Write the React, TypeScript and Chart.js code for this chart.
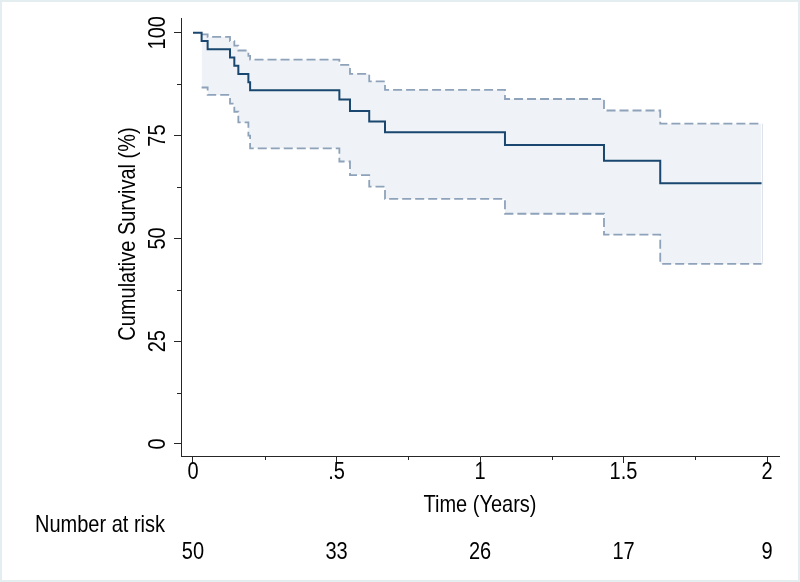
import React, { useEffect, useRef } from "react";
import { Chart, registerables } from "chart.js";
Chart.register(...registerables);

// Kaplan-Meier estimate (time in years, survival in %)
const kmTimes = [0, 0.030, 0.051, 0.129, 0.144, 0.158, 0.193, 0.199, 0.510, 0.547, 0.614, 0.669, 1.087, 1.432, 1.628, 1.981];
const kmSurvival = [100, 98, 96, 94, 92, 90, 88, 86, 83.8, 81.0, 78.4, 75.8, 72.7, 68.9, 63.4, 63.4];

// 95% confidence band
const ciTimes = [0.030, 0.051, 0.129, 0.144, 0.158, 0.193, 0.199, 0.510, 0.547, 0.614, 0.669, 1.087, 1.432, 1.628, 1.981];
const ciUpper = [99.6, 99.0, 98.0, 96.9, 95.7, 94.4, 93.5, 92.2, 90.0, 88.2, 86.1, 83.9, 81.1, 77.9, 77.9];
const ciLower = [86.7, 84.9, 82.8, 80.8, 78.2, 75.0, 71.9, 68.7, 65.4, 62.6, 59.6, 56.0, 50.9, 43.8, 43.8];

// axes
const xTicks = [0, 0.5, 1, 1.5, 2];
const xTickLabels = ["0", ".5", "1", "1.5", "2"];
const xMinorTicks = [0.25, 0.75, 1.25, 1.75];
const yTicks = [0, 25, 50, 75, 100];
const yTickLabels = ["0", "25", "50", "75", "100"];
const yMinorTicks = [12.5, 37.5, 62.5, 87.5];

// number at risk
const riskTimes = [0, 0.5, 1, 1.5, 2];
const riskCounts = [50, 33, 26, 17, 9];

const xTitle = "Time (Years)";
const yTitle = "Cumulative Survival (%)";
const riskTitle = "Number at risk";

const FONT = '20px "Liberation Sans", Arial, sans-serif';
const STRETCH = 1.2;
const AXIS = "#262626";
const NAVY = "#1a476f";
const CI_LINE = "#8ea2ba";
const CI_FILL = "#eff3f7";

const pts = (xs: number[], ys: number[]) => xs.map((x, i) => ({ x, y: ys[i] }));

function drawText(ctx: CanvasRenderingContext2D, text: string, x: number, y: number, align: CanvasTextAlign, rotated: boolean) {
  ctx.save();
  ctx.translate(x, y);
  if (rotated) ctx.rotate(-Math.PI / 2);
  ctx.scale(1, STRETCH);
  ctx.textAlign = align;
  ctx.textBaseline = "middle";
  ctx.fillText(text, 0, 0);
  ctx.restore();
}

const decor = {
  id: "decor",
  beforeDraw(chart: any) {
    const { ctx, width, height } = chart;
    ctx.save();
    ctx.fillStyle = "#ffffff";
    ctx.fillRect(0, 0, width, height);
    ctx.strokeStyle = "#e4eef0";
    ctx.lineWidth = 2;
    ctx.strokeRect(1, 1, width - 2, height - 2);
    ctx.restore();
  },
  afterDraw(chart: any) {
    const { ctx } = chart;
    const xs = chart.scales.x;
    const ys = chart.scales.y;
    ctx.save();
    // fill edge line
    ctx.strokeStyle = "#dde3ea";
    ctx.lineWidth = 1;
    const lastX = Math.round(xs.getPixelForValue(ciTimes[ciTimes.length - 1])) + 0.5;
    ctx.beginPath();
    ctx.moveTo(lastX, ys.getPixelForValue(ciUpper[ciUpper.length - 1]));
    ctx.lineTo(lastX, ys.getPixelForValue(ciLower[ciLower.length - 1]));
    ctx.stroke();

    // minor ticks
    ctx.strokeStyle = AXIS;
    ctx.lineWidth = 1;
    const left = chart.chartArea.left;
    const bottom = chart.chartArea.bottom;
    yMinorTicks.forEach((v) => {
      const y = Math.round(ys.getPixelForValue(v)) + 0.5;
      ctx.beginPath();
      ctx.moveTo(left - 4, y);
      ctx.lineTo(left, y);
      ctx.stroke();
    });
    xMinorTicks.forEach((v) => {
      const x = Math.round(xs.getPixelForValue(v)) + 0.5;
      ctx.beginPath();
      ctx.moveTo(x, bottom);
      ctx.lineTo(x, bottom + 4);
      ctx.stroke();
    });

    ctx.fillStyle = "#000000";
    ctx.font = FONT;
    // y tick labels (rotated)
    yTicks.forEach((v, i) => drawText(ctx, yTickLabels[i], 158, ys.getPixelForValue(v), "center", true));
    // y title
    drawText(ctx, yTitle, 128, 234, "center", true);
    // x tick labels
    xTicks.forEach((v, i) => drawText(ctx, xTickLabels[i], xs.getPixelForValue(v), 472, "center", false));
    // x title
    drawText(ctx, xTitle, xs.getPixelForValue(1), 505, "center", false);
    // number at risk
    drawText(ctx, riskTitle, 35, 525, "left", false);
    riskTimes.forEach((t, i) => drawText(ctx, String(riskCounts[i]), xs.getPixelForValue(t), 552, "center", false));
    ctx.restore();
  },
};

export default function App() {
  const ref = useRef<HTMLCanvasElement | null>(null);
  useEffect(() => {
    document.body.style.margin = "0";
    const canvas = ref.current;
    if (!canvas) return;
    const chart = new Chart(canvas, {
      type: "line",
      data: {
        datasets: [
          {
            label: "Survival",
            data: pts(kmTimes, kmSurvival),
            borderColor: NAVY,
            borderWidth: 2,
            stepped: "before",
            pointRadius: 0,
            fill: false,
          },
          {
            label: "Upper 95% CI",
            data: pts(ciTimes, ciUpper),
            borderColor: CI_LINE,
            borderWidth: 1.8,
            borderDash: [9, 4],
            stepped: "before",
            pointRadius: 0,
            fill: false,
          },
          {
            label: "Lower 95% CI",
            data: pts(ciTimes, ciLower),
            borderColor: CI_LINE,
            borderWidth: 1.8,
            borderDash: [9, 4],
            stepped: "before",
            pointRadius: 0,
            backgroundColor: CI_FILL,
            fill: 1,
          },
        ],
      },
      options: {
        animation: false,
        responsive: false,
        devicePixelRatio: 1,
        layout: { padding: { left: 0, right: 21, top: 18, bottom: 0 } },
        plugins: {
          legend: { display: false },
          tooltip: { enabled: false },
          title: { display: false },
        },
        scales: {
          x: {
            type: "linear",
            min: -0.0418,
            max: 2.0418,
            afterBuildTicks: (s: any) => {
              s.ticks = xTicks.map((v) => ({ value: v }));
            },
            afterFit: (s: any) => {
              s.height = 126;
            },
            ticks: { display: false },
            grid: { drawOnChartArea: false, drawTicks: true, tickLength: 7, color: AXIS, lineWidth: 1 },
            border: { display: true, color: AXIS, width: 1 },
          },
          y: {
            type: "linear",
            min: -2.92,
            max: 103.6,
            afterBuildTicks: (s: any) => {
              s.ticks = yTicks.map((v) => ({ value: v }));
            },
            afterFit: (s: any) => {
              s.width = 181;
            },
            ticks: { display: false },
            grid: { drawOnChartArea: false, drawTicks: true, tickLength: 7, color: AXIS, lineWidth: 1 },
            border: { display: true, color: AXIS, width: 1 },
          },
        },
      },
      plugins: [decor],
    });
    return () => chart.destroy();
  }, []);
  return (
    <div style={{ position: "absolute", left: 0, top: 0, width: 800, height: 582 }}>
      <canvas ref={ref} width={800} height={582} style={{ width: 800, height: 582, display: "block" }} />
    </div>
  );
}
